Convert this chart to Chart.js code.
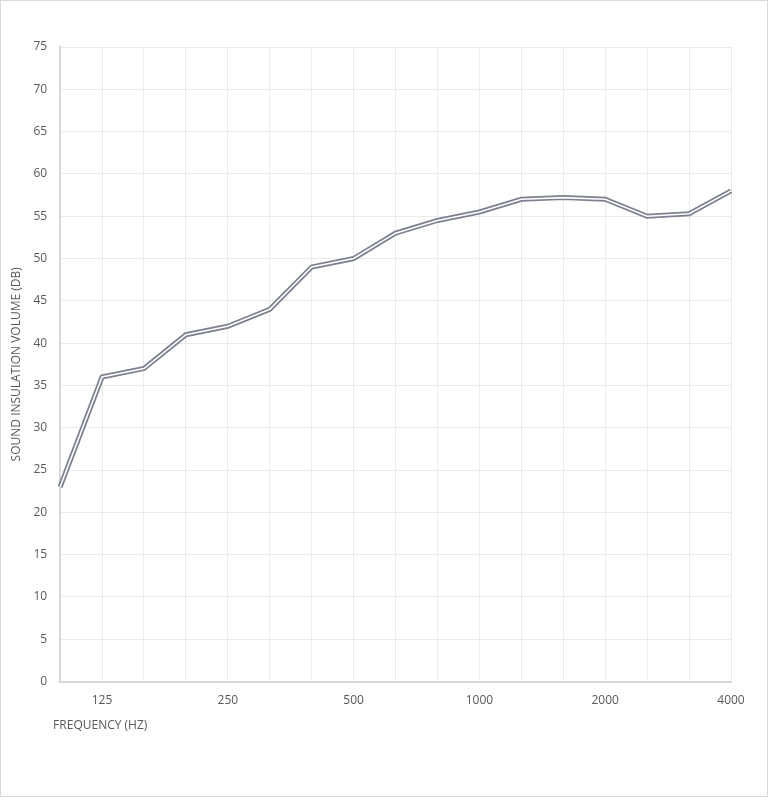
<!DOCTYPE html>
<html>
<head>
<meta charset="utf-8">
<script src="https://cdn.jsdelivr.net/npm/chart.js@4"></script>
<style>
html,body{margin:0;padding:0;background:#fff;}
#wrap{position:absolute;left:0;top:0;width:768px;height:797px;border:1px solid #d9d9d9;box-sizing:border-box;}
canvas{display:block;}
</style>
</head>
<body>
<div id="wrap"><canvas id="c" width="766" height="795"></canvas></div>
<script>
const categories = ['100','125','160','200','250','315','400','500','630','800','1000','1250','1600','2000','2500','3150','4000'];
const insulation = [23.0, 36.0, 37.0, 41.0, 42.0, 44.0, 49.0, 50.0, 53.0, 54.5, 55.5, 57.0, 57.2, 57.0, 55.0, 55.3, 58.0];
const tickLabels = ['125','250','500','1000','2000','4000'];
const yTitle = 'SOUND INSULATION VOLUME (DB)';
const xTitle = 'FREQUENCY (HZ)';

const font = {family: "'Open Sans', 'Noto Sans', sans-serif", size: 12};
const textColor = '#595959';

// draws the x-axis title slightly left of the plot area, as in the reference
const xTitlePlugin = {
  id: 'xTitlePlugin',
  afterDraw(chart) {
    const ctx = chart.ctx;
    const a = chart.chartArea;
    ctx.save();
    ctx.font = "12px 'Open Sans', 'Noto Sans', sans-serif";
    ctx.fillStyle = textColor;
    ctx.textAlign = 'left';
    ctx.textBaseline = 'middle';
    ctx.fillText(xTitle, a.left - 7, a.bottom + 44);
    ctx.restore();
  }
};

new Chart(document.getElementById('c'), {
  type: 'line',
  data: {
    labels: categories,
    datasets: [
      {data: insulation, borderColor: '#ffffff', borderWidth: 1.6, pointRadius: 0, tension: 0, fill: false, order: 0},
      {data: insulation, borderColor: '#7c8190', borderWidth: 5, pointRadius: 0, tension: 0, fill: false, order: 1}
    ]
  },
  options: {
    responsive: false,
    animation: false,
    events: [],
    layout: {padding: {left: 8, right: 36, top: 46, bottom: 76}},
    plugins: {legend: {display: false}, tooltip: {enabled: false}},
    scales: {
      x: {
        grid: {color: '#ebebeb', lineWidth: 1, drawTicks: false},
        border: {color: '#d9d9d9', width: 2},
        ticks: {
          autoSkip: false, maxRotation: 0, padding: 12, color: textColor, font: font,
          callback: function(v, i) { const l = categories[i]; return tickLabels.includes(l) ? l : ''; }
        }
      },
      y: {
        min: 0, max: 75,
        grid: {color: '#ebebeb', lineWidth: 1, drawTicks: false},
        border: {color: '#d9d9d9', width: 2},
        ticks: {stepSize: 5, padding: 13, color: textColor, font: font},
        title: {display: true, text: yTitle, color: textColor, font: font, padding: {top: 0, bottom: -3}}
      }
    }
  },
  plugins: [xTitlePlugin]
});
</script>
</body>
</html>
